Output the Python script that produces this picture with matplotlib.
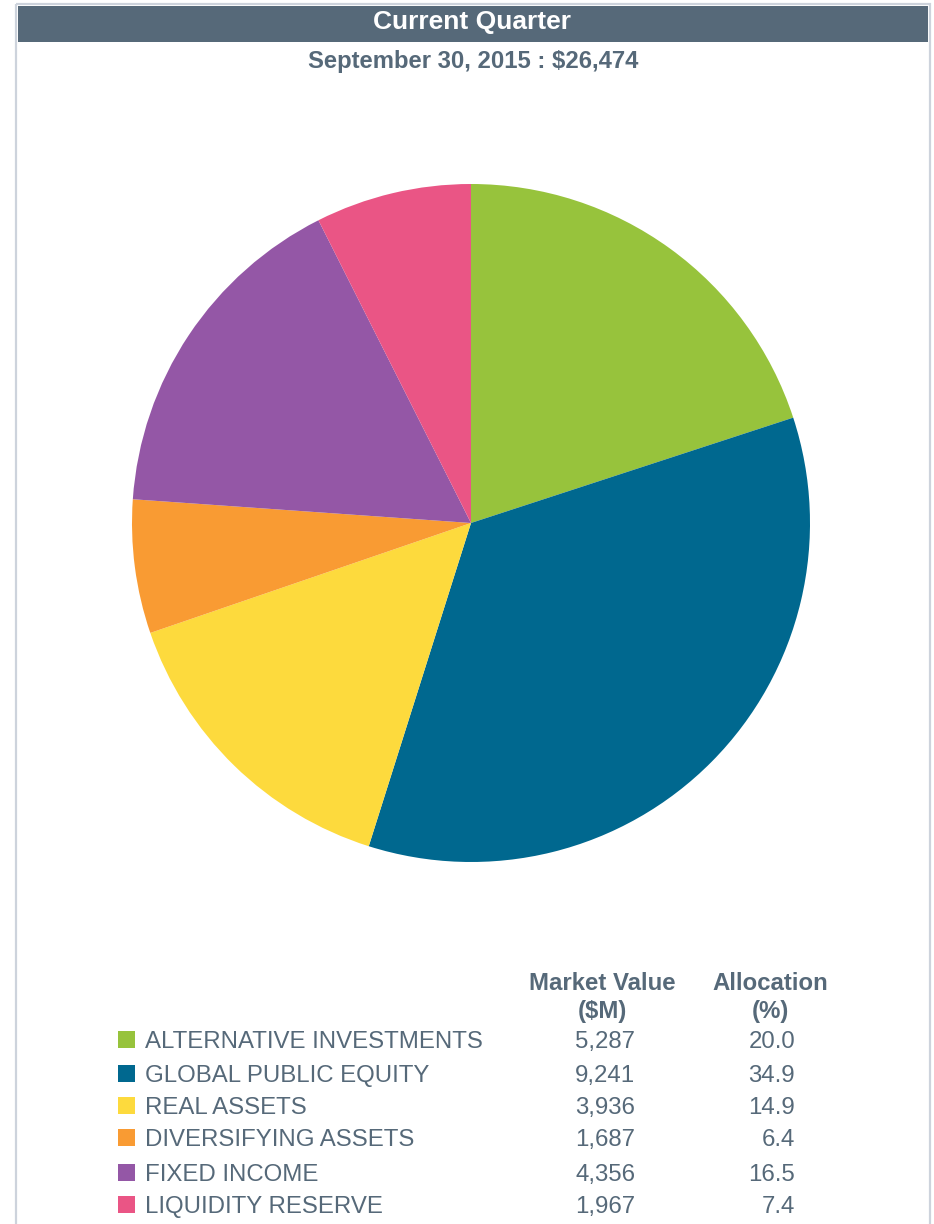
import matplotlib
matplotlib.use('Agg')
import matplotlib.pyplot as plt
from matplotlib.patches import Rectangle

plt.rcParams['font.family'] = ['Liberation Sans', 'DejaVu Sans']

title = 'Current Quarter'
subtitle = 'September 30, 2015 : $26,474'
categories = ['ALTERNATIVE INVESTMENTS', 'GLOBAL PUBLIC EQUITY', 'REAL ASSETS',
              'DIVERSIFYING ASSETS', 'FIXED INCOME', 'LIQUIDITY RESERVE']
market_value = [5287, 9241, 3936, 1687, 4356, 1967]
allocation = [20.0, 34.9, 14.9, 6.4, 16.5, 7.4]
colors = ['#97c33c', '#00688f', '#fdda3d', '#f99b33', '#9457a6', '#ea5585']

W, H = 934, 1224
txt = '#566979'
fs = 17.3
fig = plt.figure(figsize=(W / 100, H / 100), dpi=100)

# background layer in pixel coords
bg = fig.add_axes([0, 0, 1, 1])
bg.set_xlim(0, W)
bg.set_ylim(H, 0)
bg.axis('off')
bg.add_patch(Rectangle((16, 4), 914, 1230, facecolor='none', edgecolor='#cdd3dc', lw=1.6))
bg.add_patch(Rectangle((18, 6), 910, 36, facecolor='#566979', edgecolor='none'))
bg.text(472, 29, title, color='white', fontsize=19, fontweight='bold', ha='center', va='baseline')
bg.text(473, 68, subtitle, color=txt, fontsize=17.2, fontweight='bold', ha='center', va='baseline')

# pie
cx, cy, r = 471, 523, 339
ax = fig.add_axes([(cx - r) / W, (H - cy - r) / H, 2 * r / W, 2 * r / H])
ax.pie(market_value, colors=colors, startangle=90, counterclock=False, radius=1,
       wedgeprops=dict(linewidth=0))
ax.set_xlim(-1, 1)
ax.set_ylim(-1, 1)
ax.set_aspect('equal')
ax.axis('off')

# table / legend
for x, lines in [(602, ['Market Value', '($M)']), (770, ['Allocation', '(%)'])]:
    bg.text(x, 990, lines[0], color=txt, fontsize=fs, fontweight='bold', ha='center', va='baseline')
    bg.text(x, 1018, lines[1], color=txt, fontsize=fs, fontweight='bold', ha='center', va='baseline')

rows_y = [1040, 1074, 1106, 1138, 1173, 1205]
for name, mv, al, c, y in zip(categories, market_value, allocation, colors, rows_y):
    bg.add_patch(Rectangle((118, y - 9), 17, 17, facecolor=c, edgecolor='none'))
    bg.text(145, y + 8, name, color=txt, fontsize=fs, ha='left', va='baseline')
    bg.text(635, y + 8, f'{mv:,}', color=txt, fontsize=fs, ha='right', va='baseline')
    bg.text(795, y + 8, f'{al:.1f}', color=txt, fontsize=fs, ha='right', va='baseline')

fig.savefig('out.png', dpi=100)
